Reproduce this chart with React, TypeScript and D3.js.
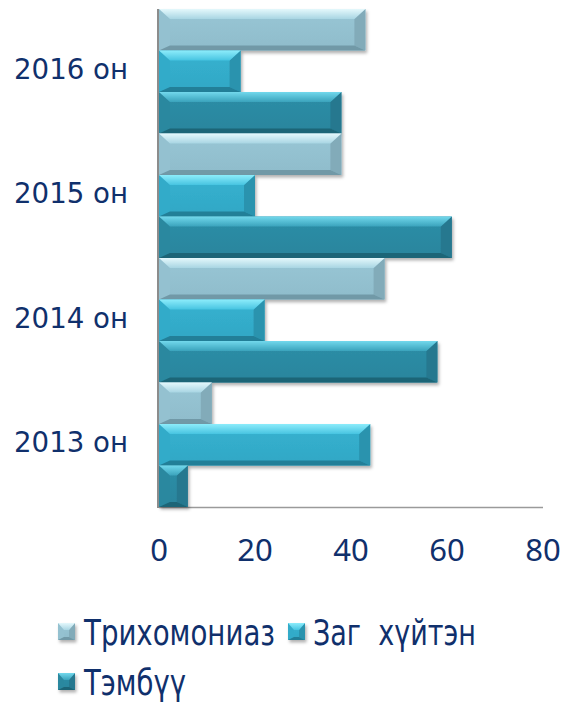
import { useEffect, useRef } from 'react'
import * as d3 from 'd3'

const years = ['2016 он', '2015 он', '2014 он', '2013 он']
const seriesNames = ['Трихомониаз', 'Заг  хүйтэн', 'Тэмбүү']
const trichomoniasis = [43, 38, 47, 11]
const gonorrhea = [17, 20, 22, 44]
const syphilis = [38, 61, 58, 6]
const xTicks = [0, 20, 40, 60, 80]

const seriesValues = [trichomoniasis, gonorrhea, syphilis]

// face / top highlight / left / right / bottom
const palettes = [
  { face: '#98c6d5', faceDark: '#8fbccb', topA: '#e4f8fc', topB: '#a8d5e3', left: '#94c1d0', right: '#82abb9', bottom: '#7199a7' },
  { face: '#36b2d0', faceDark: '#31a7c5', topA: '#8cecfb', topB: '#47c4e1', left: '#33abc9', right: '#2b93ae', bottom: '#237f98' },
  { face: '#2d8ea7', faceDark: '#2a859d', topA: '#72d8ec', topB: '#3aa3bc', left: '#2b889f', right: '#25788f', bottom: '#1d6577' },
]

const W = 569
const H = 702
const textColor = '#10306c'

export default function App() {
  const svgRef = useRef<SVGSVGElement>(null)

  useEffect(() => {
    if (!svgRef.current) return
    const svg = d3.select(svgRef.current)
    svg.selectAll('*').remove()

    const defs = svg.append('defs')
    const shadow = defs.append('filter')
      .attr('id', 'barShadow')
      .attr('x', '-10%').attr('y', '-20%')
      .attr('width', '130%').attr('height', '160%')
    shadow.append('feDropShadow')
      .attr('dx', 1.5).attr('dy', 2.5)
      .attr('stdDeviation', 1.8)
      .attr('flood-color', '#000')
      .attr('flood-opacity', 0.3)

    palettes.forEach((p, i) => {
      const gFace = defs.append('linearGradient').attr('id', `face${i}`)
        .attr('x1', 0).attr('y1', 0).attr('x2', 0).attr('y2', 1)
      gFace.append('stop').attr('offset', '0%').attr('stop-color', p.face)
      gFace.append('stop').attr('offset', '100%').attr('stop-color', p.faceDark)
      const gTop = defs.append('linearGradient').attr('id', `top${i}`)
        .attr('x1', 0).attr('y1', 0).attr('x2', 0).attr('y2', 1)
      gTop.append('stop').attr('offset', '0%').attr('stop-color', p.topA)
      gTop.append('stop').attr('offset', '100%').attr('stop-color', p.topB)
    })

    const x = d3.scaleLinear().domain([0, 80]).range([159, 543])
    const y = d3.scaleBand().domain(years).range([9, 507]).paddingInner(0).paddingOuter(0)
    const ySub = d3.scaleBand().domain(seriesNames).range([0, y.bandwidth()])

    // draws a bevelled box like the office "bevel" bar effect
    function bevelBox(g: any, x0: number, y0: number, w: number, h: number, i: number, t: number, b: number, s: number) {
      const p = palettes[i]
      const side = Math.min(s, w / 2)
      const box = g.append('g').attr('filter', 'url(#barShadow)')
      box.append('rect')
        .attr('x', x0).attr('y', y0).attr('width', w).attr('height', h)
        .attr('fill', `url(#face${i})`)
      const poly = (pts: number[][], fill: string) => {
        box.append('polygon')
          .attr('points', pts.map(q => q.join(',')).join(' '))
          .attr('fill', fill)
      }
      poly([[x0, y0], [x0 + side, y0 + t], [x0 + side, y0 + h - b], [x0, y0 + h]], p.left)
      poly([[x0 + w, y0], [x0 + w - side, y0 + t], [x0 + w - side, y0 + h - b], [x0 + w, y0 + h]], p.right)
      poly([[x0, y0 + h], [x0 + w, y0 + h], [x0 + w - side, y0 + h - b], [x0 + side, y0 + h - b]], p.bottom)
      poly([[x0, y0], [x0 + w, y0], [x0 + w - side, y0 + t], [x0 + side, y0 + t]], `url(#top${i})`)
    }

    // x axis line
    svg.append('line')
      .attr('x1', x(0)).attr('x2', x(80))
      .attr('y1', 507.5).attr('y2', 507.5)
      .attr('stroke', '#9a9a9a').attr('stroke-width', 1.5)

    // bars
    const bars = svg.append('g')
    years.forEach((yr, yi) => {
      seriesNames.forEach((name, si) => {
        const v = seriesValues[si][yi]
        const y0 = (y(yr) as number) + (ySub(name) as number)
        bevelBox(bars, x(0), y0, x(v) - x(0), ySub.bandwidth(), si, 10, 5, 11)
      })
    })

    svg.append('line')
      .attr('x1', 158).attr('x2', 158)
      .attr('y1', 9).attr('y2', 508)
      .attr('stroke', '#8c8c8c').attr('stroke-width', 2)

    // category labels
    svg.append('g').selectAll('text')
      .data(years)
      .join('text')
      .attr('x', 128)
      .attr('y', d => (y(d) as number) + y.bandwidth() / 2 + 7.5)
      .attr('text-anchor', 'end')
      .attr('textLength', 114)
      .attr('lengthAdjust', 'spacingAndGlyphs')
      .style('font-family', '"DejaVu Sans", sans-serif')
      .style('font-size', '29px')
      .style('fill', textColor)
      .text(d => d)

    // tick labels
    svg.append('g').selectAll('text')
      .data(xTicks)
      .join('text')
      .attr('x', d => x(d))
      .attr('y', 561)
      .attr('text-anchor', 'middle')
      .style('font-family', '"Noto Sans", sans-serif')
      .style('font-size', '31px')
      .style('fill', textColor)
      .text(d => d)

    // legend
    const legendItems = [
      { name: seriesNames[0], mx: 58, tx: 84, base: 645, len: 191 },
      { name: seriesNames[1], mx: 288, tx: 313, base: 645, len: 163 },
      { name: seriesNames[2], mx: 58, tx: 84, base: 695, len: 102 },
    ]
    const legend = svg.append('g')
    legendItems.forEach((it, i) => {
      bevelBox(legend, it.mx, it.base - 22, 17, 17, i, 7, 3, 6)
      legend.append('text')
        .attr('x', it.tx)
        .attr('y', it.base)
        .attr('textLength', it.len)
        .attr('lengthAdjust', 'spacingAndGlyphs')
        .style('font-family', '"DejaVu Sans", sans-serif')
        .style('font-size', '36px')
        .style('fill', textColor)
        .style('white-space', 'pre')
        .text(it.name)
    })
  }, [])

  return (
    <div style={{ position: 'absolute', left: 0, top: 0, width: W, height: H, background: '#fff' }}>
      <svg ref={svgRef} width={W} height={H} style={{ display: 'block' }}></svg>
    </div>
  )
}
